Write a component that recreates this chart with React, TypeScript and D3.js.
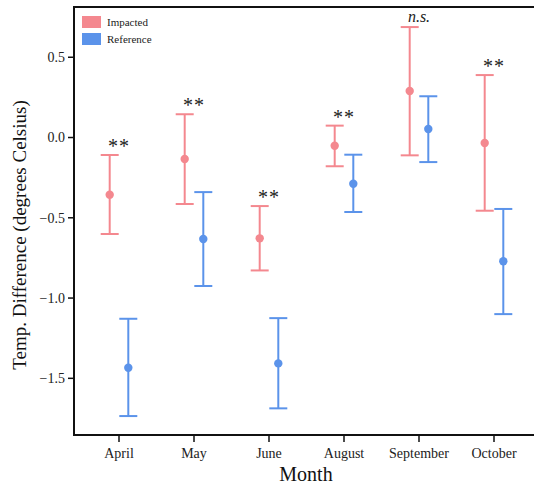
import { useEffect, useRef } from 'react';
import * as d3 from 'd3';

const months = ['April', 'May', 'June', 'August', 'September', 'October'];
const series = ['Impacted', 'Reference'];

// mean, lower, upper per month
const impactedMean = [-0.356, -0.134, -0.628, -0.051, 0.29, -0.034];
const impactedLow = [-0.601, -0.414, -0.828, -0.179, -0.111, -0.456];
const impactedHigh = [-0.109, 0.145, -0.427, 0.074, 0.688, 0.389];

const referenceMean = [-1.434, -0.632, -1.407, -0.288, 0.053, -0.771];
const referenceLow = [-1.735, -0.925, -1.687, -0.464, -0.153, -1.1];
const referenceHigh = [-1.129, -0.34, -1.125, -0.107, 0.257, -0.445];

const signif = ['**', '**', '**', '**', 'n.s.', '**'];
const yTicks = [0.5, 0.0, -0.5, -1.0, -1.5];

const colors = ['#F4888F', '#5B93EA'];

const W = 534;
const H = 485;
const margin = { left: 74, top: 7, right: -4, bottom: 50 };

export default function App() {
  const ref = useRef<SVGSVGElement>(null);

  useEffect(() => {
    const svg = d3.select(ref.current);
    svg.selectAll('*').remove();

    const x0 = margin.left;
    const x1 = W - margin.right;
    const yTop = margin.top;
    const yBot = H - margin.bottom;

    const x = d3.scalePoint<string>().domain(months).range([119, 494]);
    const y = d3.scaleLinear().domain([-1.853, 0.813]).range([yBot, yTop]);
    const off = 9.3;

    const data = [
      { mean: impactedMean, low: impactedLow, high: impactedHigh, dx: -off },
      { mean: referenceMean, low: referenceLow, high: referenceHigh, dx: off },
    ];

    const g = svg.append('g');

    data.forEach((s, si) => {
      months.forEach((m, i) => {
        const cx = (x(m) as number) + s.dx;
        const c = colors[si];
        g.append('line').attr('x1', cx).attr('x2', cx)
          .attr('y1', y(s.low[i])).attr('y2', y(s.high[i]))
          .attr('stroke', c).attr('stroke-width', 2);
        [s.low[i], s.high[i]].forEach(v => {
          g.append('line').attr('x1', cx - 9).attr('x2', cx + 9)
            .attr('y1', y(v)).attr('y2', y(v))
            .attr('stroke', c).attr('stroke-width', 2);
        });
        g.append('circle').attr('cx', cx).attr('cy', y(s.mean[i])).attr('r', 4.2).attr('fill', c);
      });
    });

    // significance labels
    months.forEach((m, i) => {
      const top = Math.max(impactedHigh[i], referenceHigh[i]);
      const ns = signif[i] !== '**';
      g.append('text')
        .attr('x', x(m) as number)
        .attr('y', y(top) - (ns ? 5 : 2))
        .attr('text-anchor', 'middle')
        .attr('font-size', ns ? 16 : 20)
        .attr('letter-spacing', ns ? 0 : 1)
        .attr('font-style', ns ? 'italic' : 'normal')
        .attr('fill', '#222')
        .text(signif[i]);
    });

    // frame
    const axisColor = '#111';
    svg.append('line').attr('x1', x0).attr('x2', x1).attr('y1', yTop).attr('y2', yTop)
      .attr('stroke', axisColor).attr('stroke-width', 2);
    svg.append('line').attr('x1', x0).attr('x2', x1).attr('y1', yBot).attr('y2', yBot)
      .attr('stroke', axisColor).attr('stroke-width', 2);
    svg.append('line').attr('x1', x0).attr('x2', x0).attr('y1', yTop - 1).attr('y2', yBot + 1)
      .attr('stroke', axisColor).attr('stroke-width', 2);

    // y ticks
    yTicks.forEach(t => {
      svg.append('line').attr('x1', x0 - 6).attr('x2', x0).attr('y1', y(t)).attr('y2', y(t))
        .attr('stroke', axisColor).attr('stroke-width', 1.5);
      svg.append('text').attr('x', x0 - 9).attr('y', y(t)).attr('dy', '0.35em')
        .attr('text-anchor', 'end').attr('font-size', 14)
        .attr('fill', '#222').text(d3.format('.1f')(t));
    });

    // x ticks
    months.forEach(m => {
      const px = x(m) as number;
      svg.append('line').attr('x1', px).attr('x2', px).attr('y1', yBot).attr('y2', yBot + 7)
        .attr('stroke', axisColor).attr('stroke-width', 1.5);
      svg.append('text').attr('x', px).attr('y', yBot + 23)
        .attr('text-anchor', 'middle').attr('font-size', 14)
        .attr('fill', '#222').text(m);
    });

    // axis titles
    svg.append('text').attr('x', 306).attr('y', 481)
      .attr('text-anchor', 'middle').attr('font-size', 20)
      .attr('fill', '#111').text('Month');
    svg.append('text')
      .attr('transform', `translate(26,235) rotate(-90)`)
      .attr('text-anchor', 'middle').attr('font-size', 19)
      .attr('fill', '#111').text('Temp. Difference (degrees Celsius)');

    // legend
    series.forEach((s, i) => {
      const ly = 16 + i * 17;
      svg.append('rect').attr('x', 82).attr('y', ly).attr('width', 19).attr('height', 12)
        .attr('fill', colors[i]);
      svg.append('text').attr('x', 107).attr('y', ly + 6).attr('dy', '0.35em')
        .attr('font-size', 11).attr('fill', '#222').text(s);
    });
  }, []);

  return (
    <svg ref={ref} width={W} height={H}
      style={{ position: 'absolute', left: 0, top: 0, background: '#fff',
        fontFamily: "'Liberation Serif', 'DejaVu Serif', serif" }} />
  );
}
